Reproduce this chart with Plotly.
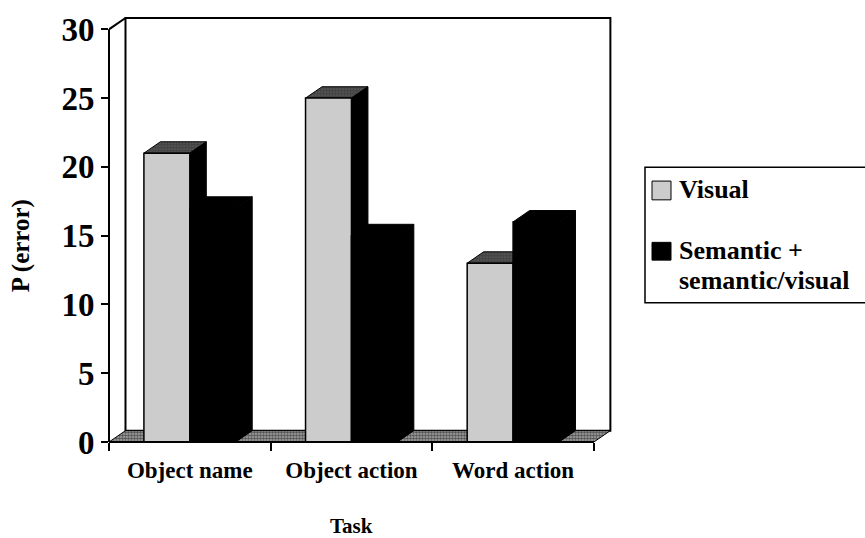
import plotly.graph_objects as go

# ---- data -------------------------------------------------------------
tasks = ["Object name", "Object action", "Word action"]
visual = [21, 25, 13]
semantic = [17, 15, 16]
y_tick_vals = [0, 5, 10, 15, 20, 25, 30]
legend_labels = ["Visual", "Semantic +", "semantic/visual"]

# ---- page / frame geometry -------------------------------------------
FIG_W, FIG_H = 865, 538
M_L, M_R, M_T, M_B = 109, 253, 12, 96
PLOT_W = FIG_W - M_L - M_R
PLOT_H = FIG_H - M_T - M_B

SERIF = "Liberation Serif"
GRAY = "#cccccc"

BAR_W = 0.284      # width of one bar, in category units
DEPTH_X = 0.102    # oblique depth shift, x units
DEPTH_Y = 0.826    # oblique depth shift, y units
X_LO = -0.5
X_HI = len(tasks) - 0.5
Y_TOP = max(y_tick_vals)
x_range = [X_LO, X_HI + DEPTH_X + 0.01]
y_range = [0, Y_TOP + DEPTH_Y + 0.07]


def px_x(px):
    return (px - M_L) / PLOT_W


def px_y(py):
    return (FIG_H - M_B - py) / PLOT_H


floor_pattern = dict(shape=".", fgcolor="black", bgcolor="#a8a8a8",
                     size=3, solidity=0.6)
top_pattern = dict(shape=".", fgcolor="black", bgcolor="#8a8a8a",
                   size=3, solidity=0.85)

fig = go.Figure()


def face(xs, ys, color, pattern=None):
    """Closed polygon for one visible face of the oblique columns."""
    fig.add_trace(go.Scatter(
        x=xs + xs[:1], y=ys + ys[:1], mode="lines", fill="toself",
        fillcolor=color, fillpattern=pattern,
        line=dict(color="black", width=1),
        hoverinfo="skip", showlegend=False))


# floor
face([X_LO, X_HI, X_HI + DEPTH_X, X_LO + DEPTH_X],
     [0, 0, DEPTH_Y, DEPTH_Y], "#555555", floor_pattern)

# tops and right-hand sides of every column
for c, (vg, vb) in enumerate(zip(visual, semantic)):
    face([c - BAR_W, c, c + DEPTH_X, c - BAR_W + DEPTH_X],
         [vg, vg, vg + DEPTH_Y, vg + DEPTH_Y], "#222222", top_pattern)
    face([c, c + DEPTH_X, c + DEPTH_X, c],
         [0, DEPTH_Y, vg + DEPTH_Y, vg], "black")
    face([c, c + BAR_W, c + BAR_W + DEPTH_X, c + DEPTH_X],
         [vb, vb, vb + DEPTH_Y, vb + DEPTH_Y], "black")
    face([c + BAR_W, c + BAR_W + DEPTH_X, c + BAR_W + DEPTH_X, c + BAR_W],
         [0, DEPTH_Y, vb + DEPTH_Y, vb], "black")

# front faces of the columns, on an overlaid copy of the axes
positions = list(range(len(tasks)))
fig.add_trace(go.Bar(
    x=positions, y=visual, width=BAR_W, offset=-BAR_W, name="Visual",
    marker=dict(color=GRAY, line=dict(color="black", width=1.5)),
    xaxis="x2", yaxis="y2", showlegend=False))
fig.add_trace(go.Bar(
    x=positions, y=semantic, width=BAR_W, offset=0,
    name="Semantic + semantic/visual",
    marker=dict(color="black", line=dict(color="black", width=1.5)),
    xaxis="x2", yaxis="y2", showlegend=False))

shapes = [
    # back wall
    dict(type="rect", xref="x", yref="y", layer="below",
         x0=X_LO + DEPTH_X, x1=X_HI + DEPTH_X, y0=DEPTH_Y, y1=Y_TOP + DEPTH_Y,
         fillcolor="white", line=dict(color="black", width=2)),
    # left side wall top edge
    dict(type="line", xref="x", yref="y",
         x0=X_LO, x1=X_LO + DEPTH_X, y0=Y_TOP, y1=Y_TOP + DEPTH_Y,
         line=dict(color="black", width=2)),
    # front value axis
    dict(type="line", xref="paper", yref="y", x0=0, x1=0, y0=0, y1=Y_TOP,
         line=dict(color="black", width=2)),
    # front category axis
    dict(type="line", xref="x", yref="paper", x0=X_LO, x1=X_HI, y0=0, y1=0,
         line=dict(color="black", width=2)),
    # legend frame
    dict(type="rect", xref="paper", yref="paper",
         x0=px_x(645), x1=px_x(870), y0=px_y(301), y1=px_y(164),
         fillcolor="white", line=dict(color="black", width=1.5)),
    # legend keys
    dict(type="rect", xref="paper", yref="paper",
         x0=px_x(652), x1=px_x(671), y0=px_y(197), y1=px_y(178),
         fillcolor=GRAY, line=dict(color="black", width=1)),
    dict(type="rect", xref="paper", yref="paper",
         x0=px_x(652), x1=px_x(671), y0=px_y(258), y1=px_y(240),
         fillcolor="black", line=dict(color="black", width=1)),
]

bold = dict(family=SERIF, color="black", weight="bold")
legend_font = dict(bold, size=26)
annotations = [
    dict(text="P (error)", xref="paper", yref="paper", x=px_x(21), y=px_y(244),
         xanchor="center", yanchor="middle", textangle=-90, showarrow=False,
         font=dict(bold, size=25)),
    dict(text="Task", xref="x", yref="paper", x=1, y=px_y(527),
         xanchor="center", yanchor="middle", showarrow=False,
         font=dict(bold, size=21)),
    dict(text=legend_labels[0], xref="paper", yref="paper", x=px_x(677),
         y=px_y(187), xanchor="left", yanchor="middle", showarrow=False,
         font=legend_font),
    dict(text=legend_labels[1], xref="paper", yref="paper", x=px_x(677),
         y=px_y(248), xanchor="left", yanchor="middle", showarrow=False,
         font=legend_font),
    dict(text=legend_labels[2], xref="paper", yref="paper", x=px_x(677),
         y=px_y(279), xanchor="left", yanchor="middle", showarrow=False,
         font=legend_font),
]

fig.update_layout(
    width=FIG_W, height=FIG_H,
    margin=dict(l=M_L, r=M_R, t=M_T, b=M_B),
    paper_bgcolor="white", plot_bgcolor="white",
    barmode="overlay", showlegend=False,
    xaxis=dict(range=x_range, tickvals=positions, ticktext=tasks, ticks="",
               showline=False, showgrid=False, zeroline=False,
               tickfont=dict(bold, size=23), ticklabelstandoff=12,
               minor=dict(tickvals=[p - 0.5 for p in positions + [len(tasks)]],
                          ticks="outside", ticklen=8, tickwidth=2,
                          tickcolor="black", showgrid=False)),
    yaxis=dict(range=y_range, tickvals=y_tick_vals, ticks="outside",
               ticklen=7, tickwidth=2, tickcolor="black",
               showline=False, showgrid=False, zeroline=False,
               tickfont=dict(bold, size=33)),
    xaxis2=dict(overlaying="x", range=x_range, visible=False),
    yaxis2=dict(overlaying="y", range=y_range, visible=False),
    shapes=shapes, annotations=annotations,
)

fig.write_html("out.html")
